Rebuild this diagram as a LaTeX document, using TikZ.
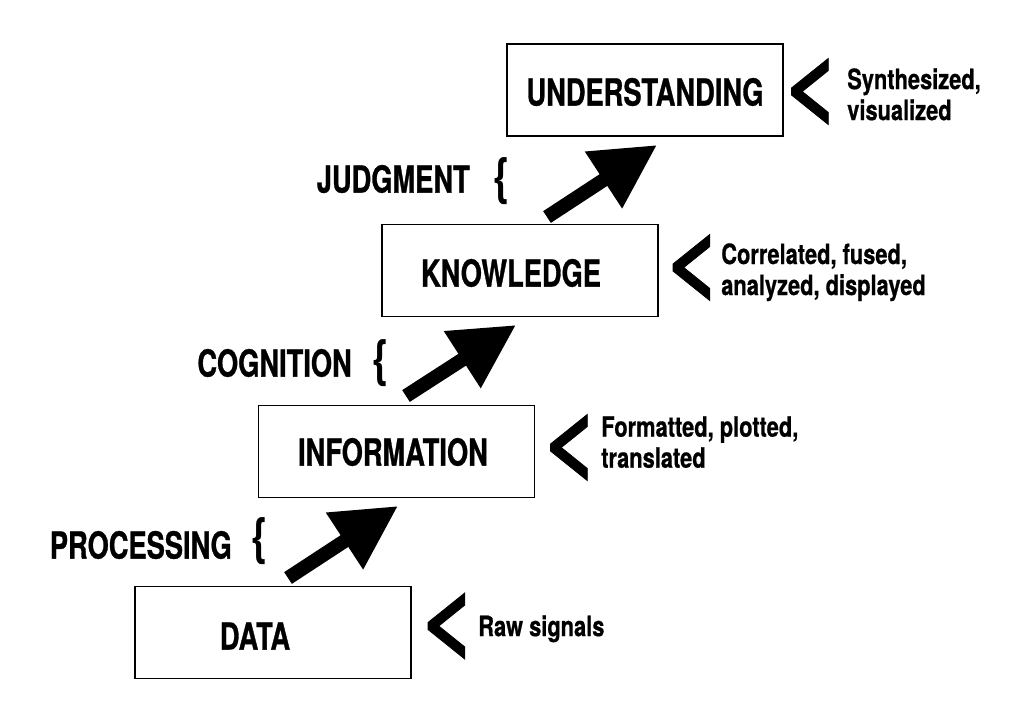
\documentclass[tikz,border=0pt]{standalone}
\usepackage{fontspec}
\setmainfont{TeX Gyre Heros}
\newfontfamily\lblfont{TeX Gyre Heros}[FakeStretch=0.73, FakeBold=0.8]
\newfontfamily\notefont{TeX Gyre Heros}[FakeStretch=0.78, FakeBold=0.6]
\newfontfamily\symfont{TeX Gyre Heros}[FakeStretch=0.85]
\newfontfamily\chevfont{TeX Gyre Heros}[FakeStretch=1.05, FakeBold=0.8]
\usetikzlibrary{arrows.meta}
\begin{document}
\begin{tikzpicture}[x=0.75pt,y=-0.75pt,
  box/.style={draw, line width=1pt, rectangle, minimum width=207pt, minimum height=69pt, inner sep=0pt},
  boxlabel/.style={font=\lblfont\bfseries\fontsize{28}{32}\selectfont, inner sep=0pt},
  stage/.style={font=\lblfont\bfseries\fontsize{28}{32}\selectfont, inner sep=0pt, anchor=east},
  brace/.style={font=\symfont\bfseries\fontsize{38}{40}\selectfont, inner sep=0pt},
  chevron/.style={font=\chevfont\bfseries\fontsize{70}{70}\selectfont, inner sep=0pt},
  note/.style={font=\notefont\bfseries\fontsize{21}{23.25}\selectfont, inner sep=0pt, anchor=north west, align=left},
  bigarrow/.style={line width=10.5pt, line cap=butt, -{Triangle[length=48pt,width=48pt]}}
]
\fill[white] (0,0) rectangle (1030,711);
\useasboundingbox (0,0) rectangle (1030,711);

% boxes
\node[box] (data) at (273,632.5) {};
\node[box] (info) at (396.5,451.5) {};
\node[box] (know) at (520,270.5) {};
\node[box] (und)  at (645,90) {};

% box labels
\node[boxlabel] (datal) at (255,636) {DATA};
\node[boxlabel] (infol) at (393,452) {INFORMATION};
\node[boxlabel] (knowl) at (511,273) {KNOWLEDGE};
\node[boxlabel] (undl)  at (645,92) {UNDERSTANDING};

% stage labels and braces
\node[stage] (proc) at (232,545) {PROCESSING};
\node[brace] (procb) at (259.5,541.5) {\{};
\node[stage] (cogn) at (352,363) {COGNITION};
\node[brace] (cognb) at (380.5,363) {\{};
\node[stage] (judg) at (470,179) {JUDGMENT};
\node[brace] (judgb) at (502,181) {\{};

% chevrons
\node[chevron] (datac) at (448,626) {<};
\node[chevron] (infoc) at (570.5,447.5) {<};
\node[chevron] (knowc) at (693,267.5) {<};
\node[chevron] (undc)  at (811.5,91.5) {<};

% notes
\node[note] (datan) at (478,615) {Raw signals};
\node[note] (infon) at (601,416) {Formatted, plotted,\\translated};
\node[note] (known) at (721,243) {Correlated, fused,\\analyzed, displayed};
\node[note] (undn)  at (847,68) {Synthesized,\\visualized};

% arrows
\coordinate (a1s) at (288,578); \coordinate (a1e) at (398,506);
\coordinate (a2s) at (406,396); \coordinate (a2e) at (516,325);
\coordinate (a3s) at (547,217); \coordinate (a3e) at (657,145);
\draw[bigarrow] (a1s) -- (a1e);
\draw[bigarrow] (a2s) -- (a2e);
\draw[bigarrow] (a3s) -- (a3e);
\end{tikzpicture}
\end{document}
